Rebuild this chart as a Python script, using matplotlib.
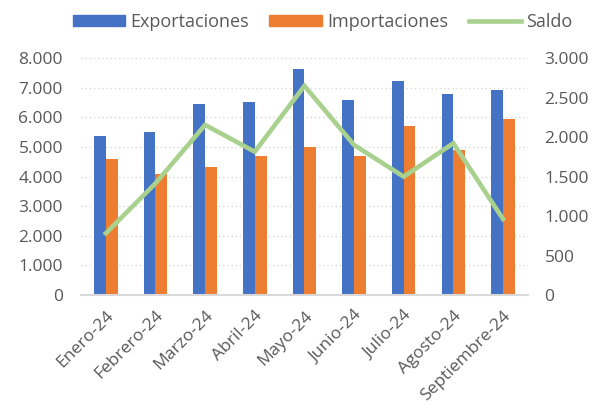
import matplotlib
matplotlib.use("Agg")
import matplotlib.pyplot as plt
import numpy as np
from matplotlib.lines import Line2D
from matplotlib.patches import Patch

meses = ["Enero-24", "Febrero-24", "Marzo-24", "Abril-24", "Mayo-24",
         "Junio-24", "Julio-24", "Agosto-24", "Septiembre-24"]
exportaciones = [5370, 5507, 6463, 6520, 7645, 6588, 7220, 6780, 6915]
importaciones = [4595, 4098, 4324, 4686, 4990, 4686, 5699, 4889, 5936]
saldo = [782, 1415, 2154, 1815, 2648, 1900, 1499, 1922, 963]

AZUL = "#4472C4"
NARANJA = "#ED7D31"
VERDE = "#A9D18E"
GRIS = "#595959"

plt.rcParams["font.family"] = ["Open Sans", "DejaVu Sans"]

fig = plt.figure(figsize=(6.06, 4.15), dpi=100)
ax = fig.add_axes([0.1337, 0.289, 0.7373, 0.571])
ax2 = ax.twinx()

x = np.arange(len(meses))
w = 0.237
ax.bar(x - w / 2, exportaciones, w, color=AZUL, zorder=2)
ax.bar(x + w / 2, importaciones, w, color=NARANJA, zorder=2)
ax2.plot(x, saldo, color=VERDE, lw=3.3, solid_joinstyle="miter", zorder=3)

ax.set_xlim(-0.5, len(meses) - 0.5)
ax.set_ylim(0, 8000)
ax2.set_ylim(0, 3000)
ax.set_yticks(range(0, 8001, 1000))
ax2.set_yticks(range(0, 3001, 500))
fmt = lambda v, _: f"{v:,.0f}".replace(",", ".")
ax.yaxis.set_major_formatter(fmt)
ax2.yaxis.set_major_formatter(fmt)

ax.grid(axis="y", color="#D9D9D9", linestyle=(0, (1, 2)), lw=1, zorder=0)
for a in (ax, ax2):
    for s in a.spines.values():
        s.set_visible(False)
    a.tick_params(length=0, labelsize=12.5, colors=GRIS)
ax.spines["bottom"].set_visible(True)
ax.spines["bottom"].set_color("#D9D9D9")
ax.spines["bottom"].set_linewidth(1.5)
ax.tick_params(axis="y", pad=13)
ax2.tick_params(axis="y", pad=12)

ax.set_xticks(x)
ax.set_xticklabels(meses, rotation=45, ha="right", rotation_mode="anchor")
ax.tick_params(axis="x", pad=9)

handles = [Patch(color=AZUL), Patch(color=NARANJA), Line2D([], [], color=VERDE, lw=3.3)]
fig.legend(handles, ["Exportaciones", "Importaciones", "Saldo"], loc="center",
           bbox_to_anchor=(0.532, 0.948), ncol=3, frameon=False, fontsize=13,
           labelcolor=GRIS, handlelength=2.9, handleheight=0.55, handletextpad=0.28,
           columnspacing=1.15)

fig.savefig("out.png", dpi=100)
